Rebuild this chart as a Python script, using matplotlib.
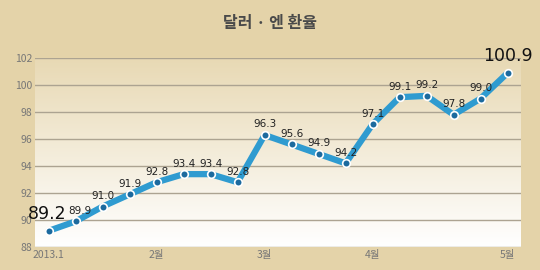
import matplotlib.pyplot as plt
import numpy as np

plt.rcParams["font.family"] = ["Noto Sans CJK KR", "DejaVu Sans"]

TITLE = "달러 · 엔 환율"
VALUES = [89.2, 89.9, 91.0, 91.9, 92.8, 93.4, 93.4, 92.8, 96.3,
          95.6, 94.9, 94.2, 97.1, 99.1, 99.2, 97.8, 99.0, 100.9]
TICK_POS = [0, 4, 8, 12, 17]
TICK_LABELS = ["2013.1", "2월", "3월", "4월", "5월"]
Y_TICKS = [88, 90, 92, 94, 96, 98, 100, 102]

BG = "#e4d3a9"
LINE = "#2f9bd0"
MARK = "#1c6a9e"


def main() -> None:
    fig = plt.figure(figsize=(5.4, 2.7), dpi=100, facecolor=BG)
    ax = fig.add_axes([0.065, 0.085, 0.9, 0.7])
    ax.set_facecolor(BG)

    x = np.arange(len(VALUES))
    ax.set_xlim(-0.5, len(VALUES) - 0.5)
    ax.set_ylim(88, 102)

    # vertical gradient from tan at the top to white at the bottom
    grad = np.linspace(0, 1, 256).reshape(-1, 1)
    top = np.array([0xe8, 0xd9, 0xb4]) / 255
    bot = np.array([1.0, 1.0, 1.0])
    img = top * (1 - grad[..., None]) + bot * grad[..., None]
    ax.imshow(img, extent=[0, 1, 0, 1], transform=ax.transAxes,
              aspect="auto", zorder=0)

    for y in Y_TICKS:
        ax.axhline(y, color="#aca391", linewidth=1, zorder=1)

    ax.plot(x, VALUES, color=LINE, linewidth=4.5, zorder=3,
            solid_capstyle="round")
    ax.plot(x, VALUES, linestyle="none", marker="o", markersize=5.5,
            markerfacecolor=MARK, markeredgecolor="white",
            markeredgewidth=1.2, zorder=4)

    last = len(VALUES) - 1
    for i, v in enumerate(VALUES):
        if i in (0, last):
            ax.annotate(f"{v:.1f}", (i, v), xytext=(-1 if i == 0 else 0, 6),
                        textcoords="offset points", ha="center",
                        va="bottom", fontsize=12.5, color="#111111",
                        family="DejaVu Sans", zorder=5)
        else:
            # the second label sits just right of the big first one
            dx = 3 if i == 1 else 0
            ax.annotate(f"{v:.1f}", (i, v), xytext=(dx, 4),
                        textcoords="offset points", ha="center",
                        va="bottom", fontsize=7.5, color="#222222",
                        family="DejaVu Sans", zorder=5)

    ax.set_xticks(TICK_POS)
    ax.set_xticklabels(TICK_LABELS)
    ax.set_yticks(Y_TICKS)
    ax.tick_params(length=0, labelsize=7.5, colors="#777777", pad=2)
    for s in ax.spines.values():
        s.set_visible(False)

    fig.text(0.5, 0.915, TITLE, ha="center", va="center", fontsize=11.5,
             fontweight="bold", color="#4a4a4a")

    fig.savefig("out.png", dpi=100, facecolor=BG)
    plt.close(fig)


if __name__ == "__main__":
    main()
